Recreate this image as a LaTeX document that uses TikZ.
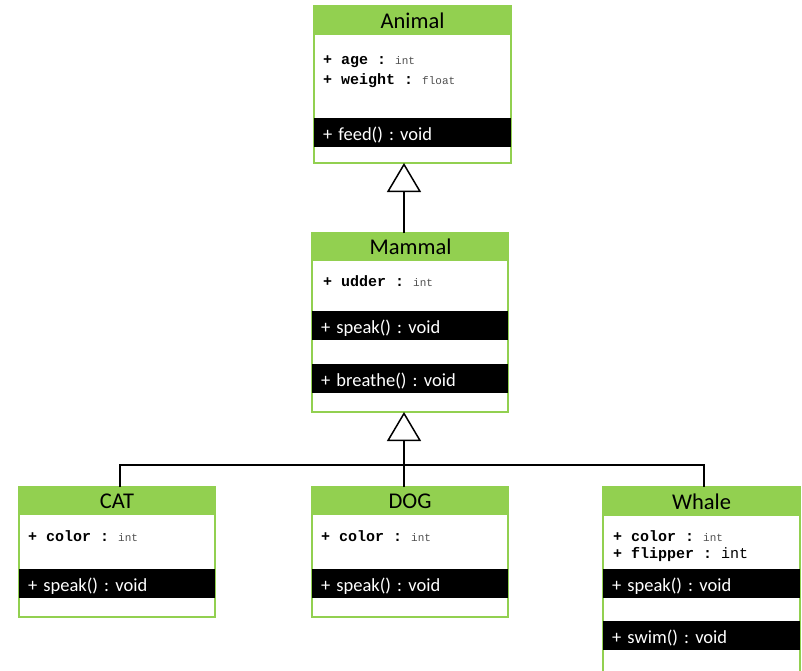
\documentclass[tikz,border=0pt]{standalone}
\usepackage{fontspec}
\setmainfont{Carlito}
\newfontfamily\attrfont{Liberation Mono}
\usetikzlibrary{arrows.meta}
\definecolor{umlgreen}{HTML}{92D050}
\definecolor{typegray}{HTML}{505050}
\frenchspacing

\tikzset{
  frame/.style={draw=umlgreen, line width=1.4pt, inner sep=0pt, outer sep=0pt,
    anchor=north west},
  header/.style={fill=umlgreen, inner sep=0pt, outer sep=0pt, anchor=north west,
    font=\fontsize{22.5}{24}\selectfont, text=black},
  band/.style={fill=black, text=white, inner ysep=0pt, inner xsep=9pt, outer sep=0pt,
    anchor=north west, align=left, minimum height=29pt,
    text height=16pt, text depth=1pt,
    font=\fontsize{18.5}{20}\selectfont},
  attr/.style={anchor=west, inner sep=0pt, font=\attrfont\bfseries\fontsize{15}{17}\selectfont},
  link/.style={line width=1.5pt, black},
  inherits/.style={link, -{Triangle[open, length=29pt, width=34pt, fill=white]}},
}
% small grey type annotation after an attribute
\newcommand{\atype}[1]{{\mdseries\fontsize{11}{13}\selectfont\color{typegray}#1}}

\begin{document}
\begin{tikzpicture}[x=1pt, y=-1pt]
  \useasboundingbox (0,0) rectangle (802,670);

  % ---------- Animal ----------
  \node[frame, minimum width=197pt, minimum height=157pt] (animal) at (314,6) {};
  \node[header, minimum width=197pt, minimum height=29pt] (animalHead) at (314,6) {Animal};
  \node[attr] (animalAge) at (323,62) {+ age :\ \atype{int}};
  \node[attr] (animalWeight) at (323,81) {+ weight :\ \atype{float}};
  \node[band, text width=179pt] (animalFeed) at (314,118) {+ feed() : void};

  % ---------- Mammal ----------
  \node[frame, minimum width=196pt, minimum height=179pt] (mammal) at (312,233) {};
  \node[header, minimum width=197pt, minimum height=28pt] (mammalHead) at (312,233) {Mammal};
  \node[attr] (mammalUdder) at (323,281) {+ udder :\ \atype{int}};
  \node[band, text width=178pt] (mammalSpeak) at (312,311) {+ speak() : void};
  \node[band, text width=178pt] (mammalBreathe) at (312,364) {+ breathe() : void};

  % ---------- CAT ----------
  \node[frame, minimum width=196pt, minimum height=130pt] (cat) at (19,487) {};
  \node[header, minimum width=196pt, minimum height=28pt] (catHead) at (19,487) {CAT};
  \node[attr] (catColor) at (28,536) {+ color :\ \atype{int}};
  \node[band, text width=178pt] (catSpeak) at (19,569) {+ speak() : void};

  % ---------- DOG ----------
  \node[frame, minimum width=196pt, minimum height=130pt] (dog) at (312,487) {};
  \node[header, minimum width=196pt, minimum height=28pt] (dogHead) at (312,487) {DOG};
  \node[attr] (dogColor) at (321,536) {+ color :\ \atype{int}};
  \node[band, text width=178pt] (dogSpeak) at (312,569) {+ speak() : void};

  % ---------- Whale (runs past the lower edge) ----------
  \node[frame, minimum width=197pt, minimum height=192pt] (whale) at (603,487) {};
  \node[header, minimum width=197pt, minimum height=29pt] (whaleHead) at (603,487) {Whale};
  \node[attr] (whaleColor) at (613,536) {+ color :\ \atype{int}};
  \node[attr] (whaleFlipper) at (613,554) {+ flipper :\ {\mdseries int}};
  \node[band, text width=179pt] (whaleSpeak) at (603,569) {+ speak() : void};
  \node[band, text width=179pt] (whaleSwim) at (603,621) {+ swim() : void};

  % ---------- generalisation links ----------
  \coordinate (spine) at (404,0);
  \coordinate (bus) at (0,465);
  \draw[inherits] (mammal.north -| spine) -- (animal.south -| spine);
  \draw[inherits] (dog.north -| spine) -- (mammal.south -| spine);
  \draw[link] ([xshift=3pt]cat.north) -- ([xshift=3pt]cat.north |- bus)
    -- ([xshift=2.5pt]whale.north |- bus) -- ([xshift=2.5pt]whale.north);
\end{tikzpicture}
\end{document}
